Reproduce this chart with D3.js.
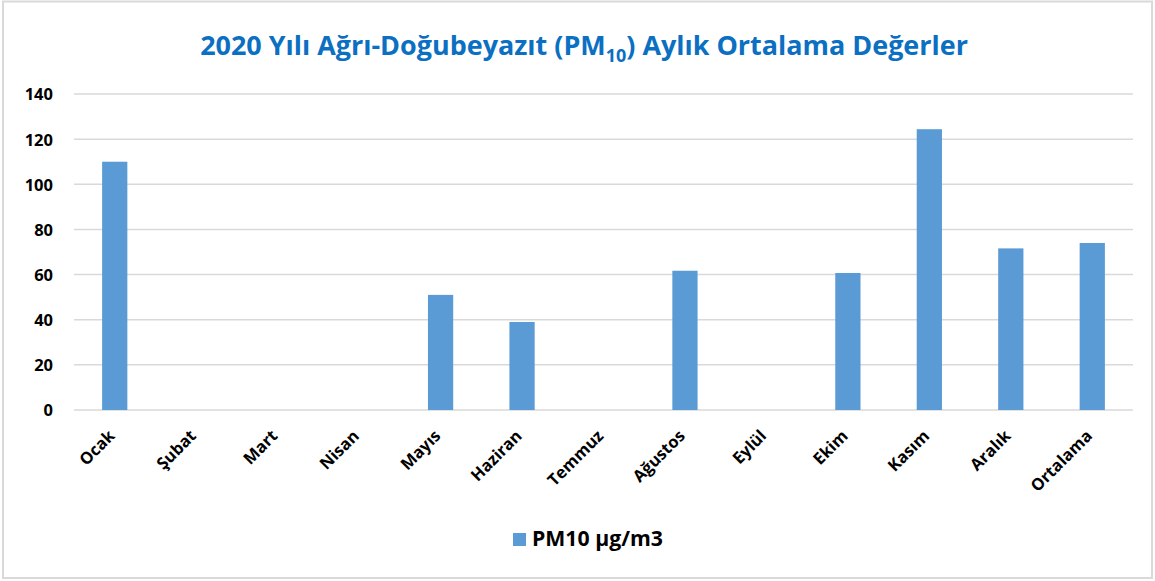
<!DOCTYPE html>
<html><head><meta charset="utf-8">
<script src="https://cdn.jsdelivr.net/npm/d3@7"></script>
<style>
html,body{margin:0;padding:0;background:#fff;}
svg{display:block;font-family:"Open Sans",Lato,sans-serif;}
</style></head>
<body>
<svg id="chart" width="1155" height="581"></svg>
<script>
const categories = ["Ocak","Şubat","Mart","Nisan","Mayıs","Haziran","Temmuz","Ağustos","Eylül","Ekim","Kasım","Aralık","Ortalama"];
const pm10Values = [110, null, null, null, 51, 39, null, 61.7, null, 60.7, 124.4, 71.6, 74];
const yTicks = [0,20,40,60,80,100,120,140];
const seriesName = "PM10 µg/m3";

const svg = d3.select("#chart");
const W = 1155, H = 581;
const m = {left:74, right:22, top:94, bottom:171};
const pw = W - m.left - m.right, ph = H - m.top - m.bottom;
const FONT = "'Open Sans',Lato,sans-serif";

svg.append("rect").attr("x",3).attr("y",1.5).attr("width",1149).attr("height",576.5)
  .attr("fill","#fff").attr("stroke","#d9d9d9").attr("stroke-width",2);

const x = d3.scaleBand().domain(categories).range([m.left, m.left+pw]).paddingInner(0.69).paddingOuter(0.345);
const y = d3.scaleLinear().domain([0,140]).range([m.top+ph, m.top]);

// grid
svg.append("g").selectAll("line").data(yTicks).join("line")
  .attr("x1",m.left).attr("x2",m.left+pw)
  .attr("y1",d=>y(d)).attr("y2",d=>y(d))
  .attr("stroke","#d9d9d9").attr("stroke-width",1.5);

// y axis
const yAxis = d3.axisLeft(y).tickValues(yTicks).tickSize(0).tickPadding(0);
const gy = svg.append("g").attr("transform",`translate(53,0)`).call(yAxis);
gy.select(".domain").remove();
gy.selectAll("text").attr("font-size",16.5).attr("font-weight","bold").attr("fill","#000")
  .attr("font-family",FONT).attr("dy","0.36em");

// bars
svg.append("g").selectAll("rect").data(categories.map((c,i)=>({c,v:pm10Values[i]})).filter(d=>d.v!=null))
  .join("rect")
  .attr("x",d=>x(d.c)).attr("width",x.bandwidth())
  .attr("y",d=>y(d.v)).attr("height",d=>y(0)-y(d.v))
  .attr("fill","#5B9BD5");

// x axis labels
const xAxis = d3.axisBottom(x).tickSize(0).tickPadding(0);
const gx = svg.append("g").attr("transform",`translate(0,${y(0)})`).call(xAxis);
gx.select(".domain").remove();
gx.selectAll("text").attr("font-size",16.5).attr("font-weight","bold").attr("fill","#000")
  .attr("font-family",FONT)
  .attr("text-anchor","end").attr("dy",0).attr("y",0)
  .attr("transform","translate(1,27) rotate(-45)");

// title
const title = svg.append("text").attr("x",584).attr("y",55).attr("text-anchor","middle")
  .attr("font-size",24).attr("font-weight","bold").attr("fill","#0B6FC2")
  .attr("font-family",FONT);
title.append("tspan").text("2020 Yılı Ağrı-Doğubeyazıt (PM");
title.append("tspan").attr("font-size",16).attr("dy",7).text("10");
title.append("tspan").attr("dy",-7).text(") Aylık Ortalama Değerler");
const tw = title.node().getComputedTextLength();
if (tw > 0) title.attr("font-size", 24 * 768 / tw).selectAll("tspan").filter((d,i)=>i===1).attr("font-size",16*768/tw);

// legend
const lg = svg.append("g");
lg.append("rect").attr("x",513).attr("y",533).attr("width",13).attr("height",13).attr("fill","#5B9BD5");
const lt = lg.append("text").attr("x",532).attr("y",546).attr("font-size",17).attr("font-weight","bold")
  .attr("font-family",FONT).attr("fill","#000").text(seriesName);
const lw = lt.node().getComputedTextLength();
if (lw > 0) lt.attr("font-size", 17 * 131 / lw);
</script>
</body></html>
